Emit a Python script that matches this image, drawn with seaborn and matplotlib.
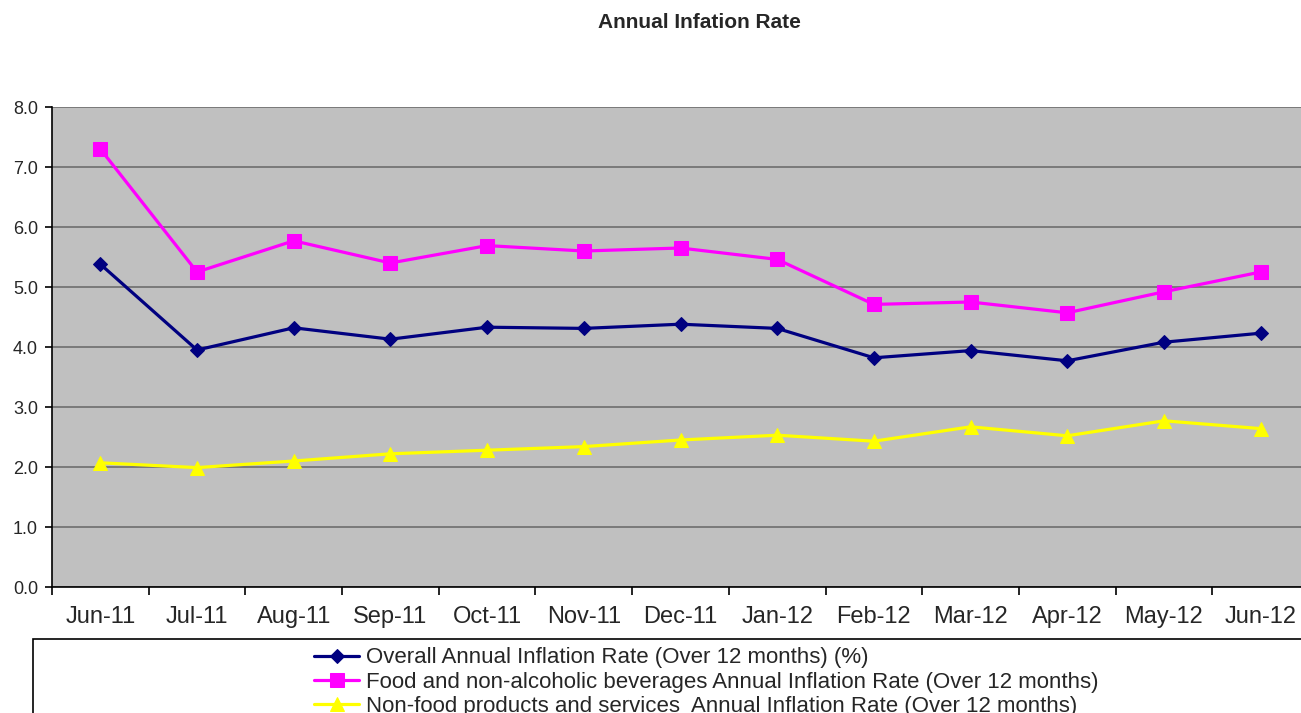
import matplotlib
matplotlib.use("Agg")
import matplotlib.pyplot as plt
from matplotlib.patches import Rectangle
from matplotlib.ticker import FixedLocator, FormatStrFormatter
import seaborn as sns
import pandas as pd

months = ["Jun-11", "Jul-11", "Aug-11", "Sep-11", "Oct-11", "Nov-11", "Dec-11",
          "Jan-12", "Feb-12", "Mar-12", "Apr-12", "May-12", "Jun-12"]
overall = [5.38, 3.95, 4.32, 4.13, 4.33, 4.31, 4.38, 4.31, 3.82, 3.94, 3.77, 4.08, 4.23]
food = [7.30, 5.25, 5.77, 5.40, 5.69, 5.60, 5.65, 5.46, 4.71, 4.75, 4.57, 4.92, 5.25]
nonfood = [2.07, 1.99, 2.10, 2.22, 2.28, 2.34, 2.45, 2.53, 2.43, 2.67, 2.52, 2.77, 2.64]

labels = ["Overall Annual Inflation Rate (Over 12 months) (%)",
          "Food and non-alcoholic beverages Annual Inflation Rate (Over 12 months)",
          "Non-food products and services  Annual Inflation Rate (Over 12 months)"]
colors = ["#000080", "#FF00FF", "#FFFF00"]
markers = ["D", "s", "^"]
msizes = [7, 10, 10]

sns.set_style("white")
plt.rcParams["font.family"] = ["Liberation Sans", "DejaVu Sans"]

W, H = 1301, 713
fig = plt.figure(figsize=(W / 100, H / 100), dpi=100)
ax = fig.add_axes([52 / W, 126 / H, 1257 / W, 480 / H])
ax.set_facecolor("#C0C0C0")

x = list(range(len(months)))
for vals, lab, col, mk, ms in zip([overall, food, nonfood], labels, colors, markers, msizes):
    df = pd.DataFrame({"x": x, "y": vals})
    sns.lineplot(data=df, x="x", y="y", ax=ax, color=col, marker=mk, markersize=ms,
                 markeredgecolor=col, linewidth=2.3, label=lab, legend=False)

ax.set_xlim(-0.5, len(months) - 0.5)
ax.set_ylim(0, 8)
ax.set_yticks(range(0, 9))
ax.yaxis.set_major_formatter(FormatStrFormatter("%.1f"))
ax.set_xticks(x)
ax.set_xticklabels(months)
ax.xaxis.set_minor_locator(FixedLocator([i - 0.5 for i in range(len(months) + 1)]))
ax.tick_params(axis="x", which="major", bottom=True, length=0, pad=14, labelsize=17)
ax.tick_params(axis="x", which="minor", bottom=True, length=6, width=1.2,
               color="black", direction="out")
ax.tick_params(axis="y", left=True, length=5, width=1.2, color="black",
               direction="out", pad=5, labelsize=13)
ax.set_xlabel("")
ax.set_ylabel("")
ax.grid(axis="y", color="#6E6E6E", linewidth=1.2)
ax.grid(axis="x", visible=False)
ax.set_axisbelow(True)
for s in ["top", "right"]:
    ax.spines[s].set_visible(False)
for s in ["left", "bottom"]:
    ax.spines[s].set_color("black")
    ax.spines[s].set_linewidth(1.2)

fig.text(699 / W, 1 - 22 / H, "Annual Infation Rate", ha="center", va="center",
         fontsize=15, fontweight="bold")

# legend box running off the bottom/right like the source
fig.patches.append(Rectangle((33 / W, -0.1), 1.0, (713 - 639) / H + 0.1,
                             transform=fig.transFigure, facecolor="white",
                             edgecolor="black", linewidth=1.2, zorder=0))
handles, labs = ax.get_legend_handles_labels()
fig.legend(handles, labs, loc="upper left", bbox_to_anchor=(310 / W, 1 - 643 / H),
           frameon=False, fontsize=16, handlelength=2.0, handletextpad=0.3,
           labelspacing=0.15, borderpad=0.2, borderaxespad=0)

fig.savefig("out.png", dpi=100)
